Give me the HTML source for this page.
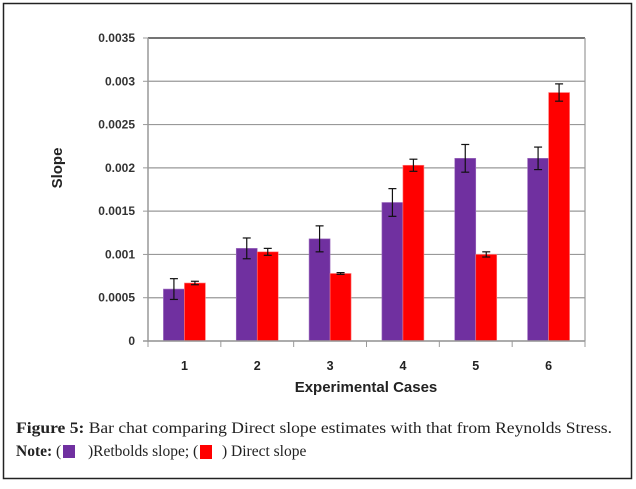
<!DOCTYPE html>
<html><head><meta charset="utf-8"><style>
body{margin:0;background:#fff;width:636px;height:484px;overflow:hidden}
svg text{font-family:"Liberation Sans",sans-serif}
.cap{font-family:"Liberation Serif",serif;font-size:15.5px;fill:#222}
</style></head><body>
<svg id="chart" width="636" height="484" xmlns="http://www.w3.org/2000/svg">
<rect x="3.5" y="3.5" width="628" height="475" fill="#fff" stroke="#222" stroke-width="1.5"/>
<g id="grid"></g>
<g id="bars"></g>
<g id="axes"></g>
<text x="62" y="168" transform="rotate(-90 62 168)" text-anchor="middle" font-size="15" font-weight="bold" fill="#222">Slope</text>
<text x="366" y="392" text-anchor="middle" font-size="15" font-weight="bold" fill="#222">Experimental Cases</text>
<text x="16" y="433" class="cap" textLength="596" lengthAdjust="spacingAndGlyphs"><tspan font-weight="bold">Figure 5:</tspan> Bar chat comparing Direct slope estimates with that from Reynolds Stress.</text>
<g>
<text x="16" y="456" class="cap"><tspan font-weight="bold">Note:</tspan> (</text>
<rect x="63" y="445" width="12" height="13" fill="#7030a0"/>
<text x="88" y="456" class="cap">)Retbolds slope; (</text>
<rect x="200" y="445" width="12" height="14" fill="#ff0000"/>
<text x="222" y="456" class="cap">) Direct slope</text>
</g>
</svg>
<script>
const categories=["1","2","3","4","5","6"];
const reynolds=[0.0006,0.00107,0.00118,0.0016,0.00211,0.00211];
const reynoldsErr=[0.00012,0.00012,0.00015,0.00016,0.00016,0.00013];
const direct=[0.00067,0.00103,0.00078,0.00203,0.001,0.00287];
const directErr=[0.00002,0.00004,0.00001,0.00007,0.00003,0.0001];
const yTicks=[0,0.0005,0.001,0.0015,0.002,0.0025,0.003,0.0035];
const yTickLabels=["0","0.0005","0.001","0.0015","0.002","0.0025","0.003","0.0035"];
const NS="http://www.w3.org/2000/svg";
const L=148,R=585,T=38,B=341,yMax=0.0035;
const y=v=>B-(v/yMax)*(B-T);
const bw=(R-L)/categories.length;
const xc=i=>L+bw*(i+0.5);
function mk(tag,attrs,parent){const e=document.createElementNS(NS,tag);for(const k in attrs)e.setAttribute(k,attrs[k]);parent.appendChild(e);return e;}
const grid=document.getElementById('grid'),bars=document.getElementById('bars'),axes=document.getElementById('axes');
yTicks.forEach((t,i)=>{
 const g=mk('line',{x1:L,x2:R,y1:y(t),y2:y(t),stroke:i===yTicks.length-1?'#222':'#999','stroke-width':1.2},grid);
 
 
 const tk=mk('line',{x1:L-5,x2:L,y1:y(t),y2:y(t),stroke:'#999'},axes);
 
 
 const tx=mk('text',{x:135,y:y(t)+4,'text-anchor':'end','font-size':12,'font-weight':'bold',fill:'#333'},axes);
 tx.textContent=yTickLabels[i];
 
 
});
const ra=mk('line',{x1:R,x2:R,y1:T,y2:B,stroke:'#999','stroke-width':1.2},grid);


const bwid=21;
function errbar(cx,v,e){
 const g=mk('g',{stroke:'#111','stroke-width':1.2},bars);
 
 
 mk('line',{x1:cx,x2:cx,y1:y(v+e),y2:y(v-e)},g);
 mk('line',{x1:cx-4,x2:cx+4,y1:y(v+e),y2:y(v+e)},g);
 mk('line',{x1:cx-4,x2:cx+4,y1:y(v-e),y2:y(v-e)},g);
}
categories.forEach((c,i)=>{
 const cx=xc(i);
 const p=mk('rect',{x:cx-bwid,y:y(reynolds[i]),width:bwid,height:B-y(reynolds[i]),fill:'#7030a0',stroke:'#a070c0','stroke-width':0.6},bars);
 
 
 const r=mk('rect',{x:cx,y:y(direct[i]),width:bwid,height:B-y(direct[i]),fill:'#ff0000',stroke:'#ff8080','stroke-width':0.6},bars);
 
 
 errbar(cx-bwid/2,reynolds[i],reynoldsErr[i]);
 errbar(cx+bwid/2,direct[i],directErr[i]);
 const lb=mk('text',{x:cx,y:370,'text-anchor':'middle','font-size':12.5,'font-weight':'bold',fill:'#222'},axes);
 lb.textContent=c;
 
 
});
for(let i=0;i<=categories.length;i++){
 const t=mk('line',{x1:L+bw*i,x2:L+bw*i,y1:B,y2:B+6,stroke:'#999'},axes);
 
 
}
const ya=mk('line',{x1:L,x2:L,y1:T,y2:B+1,stroke:'#999','stroke-width':1.5},axes);


const xa=mk('line',{x1:L-5,x2:R,y1:B,y2:B,stroke:'#999','stroke-width':1.5},axes);


</script>
</body></html>
